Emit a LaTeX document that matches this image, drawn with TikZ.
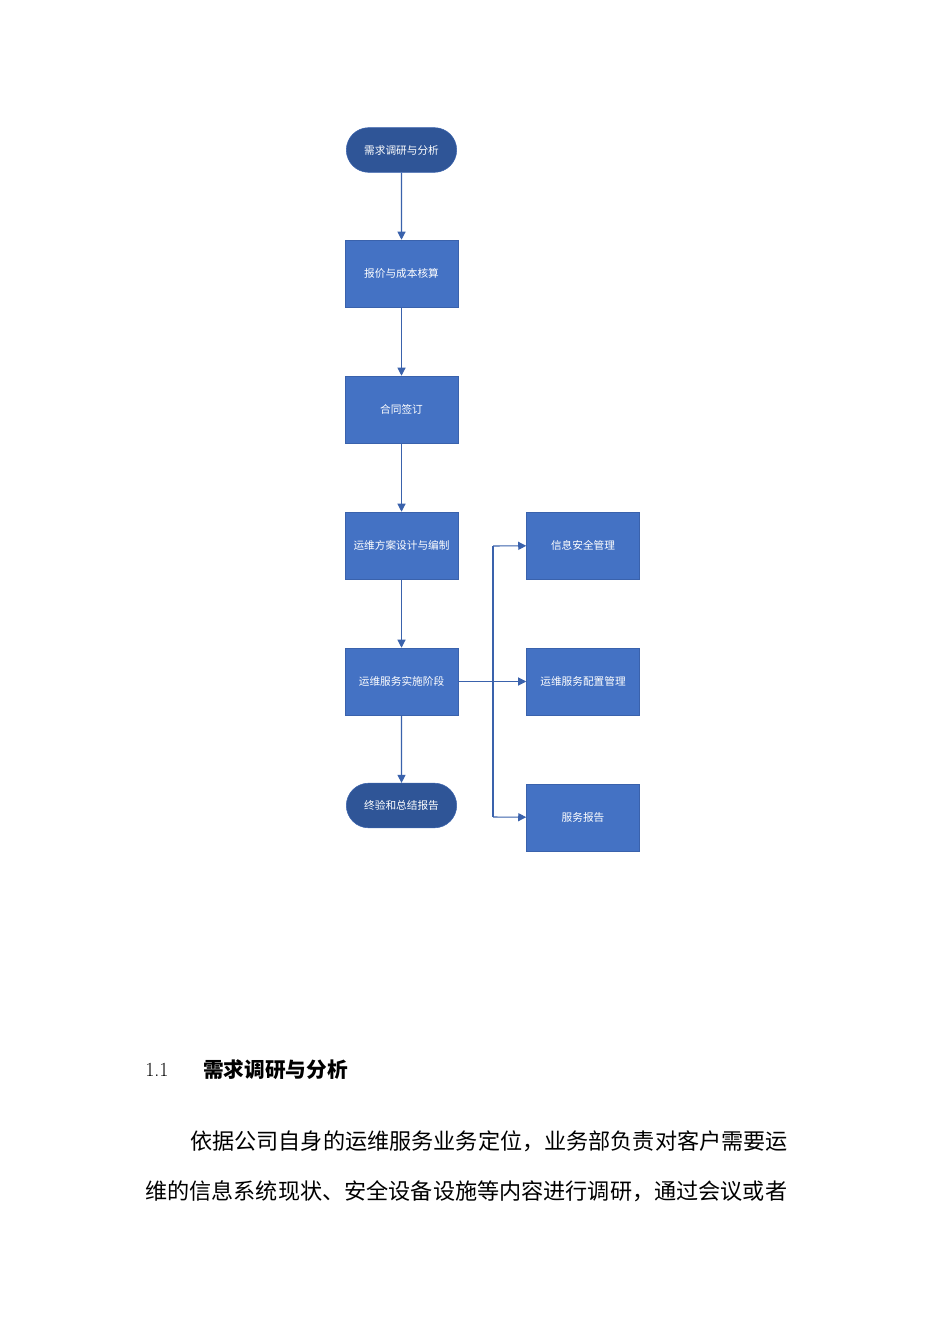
\documentclass[tikz,border=0pt]{standalone}
\usepackage{fontspec}
\newfontfamily\cjk{Noto Sans CJK SC}
\usetikzlibrary{arrows.meta,shapes.misc}
\definecolor{boxblue}{HTML}{4472C4}
\definecolor{termblue}{HTML}{2F5597}
\definecolor{edgeblue}{HTML}{3A62AC}
\begin{document}
\begin{tikzpicture}[x=0.75pt,y=-0.75pt,
  proc/.style={draw=edgeblue,fill=boxblue,minimum width=84.75pt,minimum height=50.25pt,inner sep=2pt,text=white,font=\cjk\fontsize{8}{10}\selectfont,align=center,text width=80pt},
  term/.style={draw=edgeblue,fill=termblue,rounded rectangle,minimum width=84.75pt,minimum height=33.5pt,inner sep=1pt,text=white,font=\cjk\fontsize{8}{10}\selectfont},
  conn/.style={draw=edgeblue,line width=0.8pt,-{Triangle[length=6pt,width=6pt]}},
  body/.style={anchor=west,inner sep=0pt,font=\cjk\fontsize{16.6}{20}\selectfont}]
\fill[white] (0,0) rectangle (950,1344);
\node[term] (a) at (401.5,150) {需求调研与分析};
\node[proc] (b) at (401.5,273.5) {报价与成本核算};
\node[proc] (c) at (401.5,409.5) {合同签订};
\node[proc] (d) at (401.5,545.5) {运维方案设计与编制};
\node[proc] (e) at (401.5,681.5) {运维服务实施阶段};
\node[term] (f) at (401.5,805.5) {终验和总结报告};
\node[proc] (g) at (583,545.5) {信息安全管理};
\node[proc] (h) at (583,681.5) {运维服务配置管理};
\node[proc] (i) at (583,817.5) {服务报告};
\draw[conn] (a) -- (b);
\draw[conn] (b) -- (c);
\draw[conn] (c) -- (d);
\draw[conn] (d) -- (e);
\draw[conn] (e) -- (f);
\draw[conn] (e) -- (h);
\coordinate (bt) at (493,546);
\coordinate (bb) at (493,817);
\draw[conn] (bt) -- (g);
\draw[conn] (bb) -- (i);
\draw[draw=edgeblue,line width=0.8pt] (bt) -- (bb);
\node[anchor=west,inner sep=0pt,font=\fontsize{15}{18}\selectfont] (n) at (145,1070) {1.1};
\node[anchor=west,inner sep=0pt,font=\cjk\bfseries\fontsize{15.5}{18}\selectfont] (t) at (203,1070) {需求调研与分析};
\node[body] (p1) at (190,1141) {依据公司自身的运维服务业务定位，业务部负责对客户需要运};
\node[body] (p2) at (145,1191) {维的信息系统现状、安全设备设施等内容进行调研，通过会议或者};
\end{tikzpicture}
\end{document}
